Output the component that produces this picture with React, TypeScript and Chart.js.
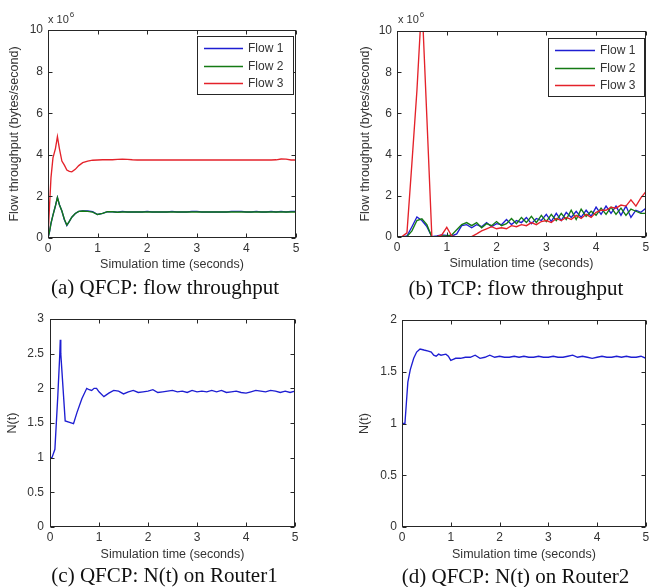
import React, { useEffect, useRef } from "react";
import { Chart, registerables } from "chart.js";

Chart.register(...registerables);

// ---------- data ----------
const flowLabels = ["Flow 1", "Flow 2", "Flow 3"];
const xTicks = [0, 1, 2, 3, 4, 5];
const yTicksThroughput = [0, 2, 4, 6, 8, 10];
const yTicksRouter1 = [0, 0.5, 1, 1.5, 2, 2.5, 3];
const yTicksRouter2 = [0, 0.5, 1, 1.5, 2];

// (a) QFCP flow throughput (x 10^6 bytes/second)
const timeA = [0, 0.03, 0.06, 0.1, 0.15, 0.19, 0.23, 0.28, 0.33, 0.38, 0.43, 0.48, 0.55, 0.62, 0.7, 0.8, 0.9,
  1.0, 1.1, 1.2, 1.3, 1.4, 1.5, 1.6, 1.7, 1.8, 1.9,
  2.0, 2.1, 2.2, 2.3, 2.4, 2.5, 2.6, 2.7, 2.8, 2.9,
  3.0, 3.1, 3.2, 3.3, 3.4, 3.5, 3.6, 3.7, 3.8, 3.9,
  4.0, 4.1, 4.2, 4.3, 4.4, 4.5, 4.6, 4.7, 4.8, 4.9, 5.0];
const flow1A = [0, 0.3, 0.7, 1.1, 1.55, 1.95, 1.6, 1.3, 0.88, 0.6, 0.8, 1.0, 1.18, 1.28, 1.3, 1.3, 1.27,
  1.13, 1.18, 1.27, 1.26, 1.24, 1.28, 1.25, 1.25, 1.25, 1.25,
  1.28, 1.25, 1.25, 1.25, 1.25, 1.28, 1.25, 1.25, 1.25, 1.28,
  1.28, 1.25, 1.25, 1.25, 1.25, 1.25, 1.25, 1.28, 1.28, 1.28,
  1.25, 1.25, 1.28, 1.25, 1.25, 1.28, 1.25, 1.28, 1.25, 1.28, 1.28];
const flow2A = [0, 0.3, 0.7, 1.1, 1.55, 1.95, 1.6, 1.3, 0.9, 0.62, 0.8, 1.0, 1.18, 1.28, 1.3, 1.28, 1.24,
  1.13, 1.18, 1.27, 1.26, 1.24, 1.25, 1.25, 1.25, 1.25, 1.25,
  1.25, 1.25, 1.25, 1.25, 1.25, 1.25, 1.25, 1.25, 1.25, 1.25,
  1.25, 1.25, 1.25, 1.25, 1.25, 1.25, 1.25, 1.25, 1.25, 1.25,
  1.25, 1.25, 1.25, 1.25, 1.25, 1.25, 1.25, 1.25, 1.25, 1.25, 1.25];
const flow3A = [0, 1.5, 2.9, 3.85, 4.3, 4.87, 4.3, 3.7, 3.5, 3.27, 3.2, 3.18, 3.3, 3.48, 3.62, 3.7, 3.74,
  3.75, 3.76, 3.77, 3.76, 3.78, 3.79, 3.78, 3.76, 3.75, 3.75,
  3.75, 3.75, 3.75, 3.75, 3.75, 3.75, 3.75, 3.75, 3.75, 3.75,
  3.75, 3.75, 3.75, 3.75, 3.75, 3.75, 3.75, 3.75, 3.75, 3.75,
  3.75, 3.75, 3.75, 3.75, 3.75, 3.75, 3.76, 3.8, 3.79, 3.75, 3.75];

// (b) TCP flow throughput (x 10^6 bytes/second)
const timeB = [0, 0.1, 0.2, 0.3, 0.4, 0.5, 0.6, 0.7, 0.8, 0.9,
  1.0, 1.1, 1.2, 1.3, 1.4, 1.5, 1.6, 1.7, 1.8, 1.9,
  2.0, 2.1, 2.2, 2.3, 2.4, 2.5, 2.6, 2.7, 2.8, 2.9,
  3.0, 3.1, 3.2, 3.3, 3.4, 3.5, 3.6, 3.7, 3.8, 3.9,
  4.0, 4.1, 4.2, 4.3, 4.4, 4.5, 4.6, 4.7, 4.8, 4.9, 5.0];
const flow1B = [0, 0, 0.05, 0.5, 0.97, 0.8, 0.5, 0.02, 0.05, 0.1,
  0.08, 0.05, 0.15, 0.55, 0.6, 0.45, 0.6, 0.5, 0.7, 0.5,
  0.65, 0.6, 0.85, 0.6, 0.8, 0.7, 0.95, 0.65, 0.9, 0.8,
  1.1, 0.75, 1.15, 0.8, 1.2, 0.95, 1.25, 0.95, 1.3, 1.0,
  1.45, 1.1, 1.5, 1.15, 1.5, 1.05, 1.5, 0.95, 1.3, 1.2, 1.4];
const flow2B = [0, 0, 0.02, 0.3, 0.8, 0.88, 0.6, 0, 0.02, 0.05,
  0.05, 0.1, 0.35, 0.6, 0.7, 0.55, 0.7, 0.45, 0.65, 0.55,
  0.75, 0.55, 0.65, 0.9, 0.65, 0.95, 0.7, 1.0, 0.7, 1.05,
  0.75, 1.1, 0.8, 1.15, 0.85, 1.3, 0.85, 1.35, 1.0, 1.25,
  1.05, 1.4, 1.1, 1.45, 1.1, 1.4, 1.05, 1.35, 1.25, 1.15, 1.15];
const flow3B = [0, 0.02, 0.2, 3.6, 7.1, 11.5, 5.8, 0.03, 0.02, 0.1,
  0.47, 0.05, 0, 0, 0, 0.02, 0.15, 0.3, 0.4, 0.5,
  0.4, 0.45, 0.4, 0.55, 0.5, 0.6, 0.55, 0.7, 0.6, 0.75,
  0.8, 0.7, 0.9, 0.8, 0.95, 0.85, 1.05, 0.9, 1.1, 0.95,
  1.2, 1.3, 1.3, 1.45, 1.4, 1.55, 1.5, 1.8, 1.5, 1.9, 2.2];

// (c) QFCP N(t) on Router1
const timeC = [0, 0.04, 0.1, 0.16, 0.2, 0.21, 0.22, 0.31, 0.4, 0.48, 0.55, 0.65, 0.75, 0.8, 0.85, 0.9, 0.95,
  1.0, 1.1, 1.2, 1.3, 1.4, 1.5, 1.6, 1.7, 1.8, 1.9,
  2.0, 2.1, 2.2, 2.3, 2.4, 2.5, 2.6, 2.7, 2.8, 2.9,
  3.0, 3.1, 3.2, 3.3, 3.4, 3.5, 3.6, 3.7, 3.8, 3.9,
  4.0, 4.1, 4.2, 4.3, 4.4, 4.5, 4.6, 4.7, 4.8, 4.9, 5.0];
const nRouter1 = [1.0, 1.0, 1.12, 1.9, 2.5, 2.7, 2.5, 1.53, 1.51, 1.49, 1.65, 1.85, 2.0, 1.98, 1.97, 2.0, 2.0,
  1.95, 1.88, 1.93, 1.97, 1.96, 1.92, 1.95, 1.97, 1.94, 1.95,
  1.96, 1.98, 1.94, 1.95, 1.96, 1.97, 1.95, 1.96, 1.94, 1.97,
  1.95, 1.96, 1.95, 1.97, 1.95, 1.97, 1.94, 1.95, 1.96, 1.94,
  1.93, 1.95, 1.97, 1.96, 1.95, 1.97, 1.96, 1.94, 1.96, 1.94, 1.96];

// (d) QFCP N(t) on Router2
const timeD = [0, 0.06, 0.09, 0.12, 0.17, 0.24, 0.3, 0.37, 0.45, 0.54, 0.6, 0.65, 0.7, 0.75, 0.8, 0.9, 0.95, 1.0, 1.05, 1.1,
  1.2, 1.3, 1.4, 1.5, 1.6, 1.7, 1.8, 1.9,
  2.0, 2.1, 2.2, 2.3, 2.4, 2.5, 2.6, 2.7, 2.8, 2.9,
  3.0, 3.1, 3.2, 3.3, 3.4, 3.5, 3.6, 3.7, 3.8, 3.9,
  4.0, 4.1, 4.2, 4.3, 4.4, 4.5, 4.6, 4.7, 4.8, 4.9, 5.0];
const nRouter2 = [1.0, 1.0, 1.2, 1.4, 1.52, 1.63, 1.69, 1.72, 1.71, 1.7, 1.69, 1.66, 1.65, 1.67, 1.66, 1.67, 1.65, 1.61, 1.62, 1.63,
  1.63, 1.64, 1.64, 1.66, 1.63, 1.64, 1.66, 1.64,
  1.65, 1.64, 1.64, 1.65, 1.64, 1.65, 1.64, 1.64, 1.65, 1.64,
  1.64, 1.65, 1.64, 1.64, 1.65, 1.66, 1.64, 1.65, 1.64, 1.63,
  1.64, 1.65, 1.64, 1.64, 1.65, 1.64, 1.65, 1.64, 1.64, 1.65, 1.63];

// ---------- styling ----------
const SANS = "'Liberation Sans', Arial, sans-serif";
const SERIF = "'Liberation Serif', 'Times New Roman', serif";
const BLUE = "#1e1ed2";
const GREEN = "#147a14";
const RED = "#e4222a";
const TEXT = "#333333";

type Rect = { x: number; y: number; w: number; h: number };
type Series = { label: string; color: string; time: number[]; values: number[]; order: number };
type LegendCfg = { x: number; y: number; w: number; h: number; lx1: number; lx2: number; tx: number; rows: number[] };
type PanelCfg = {
  canvas: Rect;
  plot: { L: number; T: number; R: number; B: number };
  yTitle: string;
  yTitleX: number;
  xTitleY: number;
  xTickY: number;
  yTickGap: number;
  yMax: number;
  yTicks: number[];
  series: Series[];
  exponent?: { x: number; y: number };
  legend?: LegendCfg;
};

const framePlugin = {
  id: "matlabFrame",
  afterDatasetsDraw(chart: any, _args: any, opts: any) {
    const cfg: PanelCfg = opts.cfg;
    const { ctx, chartArea } = chart;
    const { left, top, right, bottom } = chartArea;
    const xs = chart.scales.x;
    const ys = chart.scales.y;
    ctx.save();
    ctx.strokeStyle = "#262626";
    ctx.lineWidth = 1;
    const l = Math.round(left) + 0.5;
    const t = Math.round(top) + 0.5;
    const r = Math.round(right) - 0.5;
    const b = Math.round(bottom) - 0.5;
    ctx.strokeRect(l, t, r - l, b - t);
    const tl = 4;
    ctx.beginPath();
    xTicks.forEach((v) => {
      const px = Math.round(xs.getPixelForValue(v)) + 0.5;
      ctx.moveTo(px, b);
      ctx.lineTo(px, b - tl);
      ctx.moveTo(px, t);
      ctx.lineTo(px, t + tl);
    });
    cfg.yTicks.forEach((v) => {
      const py = Math.round(ys.getPixelForValue(v)) + 0.5;
      ctx.moveTo(l, py);
      ctx.lineTo(l + tl, py);
      ctx.moveTo(r, py);
      ctx.lineTo(r - tl, py);
    });
    ctx.stroke();

    const ox = cfg.canvas.x;
    const oy = cfg.canvas.y;
    if (cfg.exponent) {
      ctx.fillStyle = TEXT;
      ctx.textBaseline = "alphabetic";
      ctx.textAlign = "left";
      ctx.font = `11px ${SANS}`;
      const ex = cfg.exponent.x - ox;
      const ey = cfg.exponent.y - oy;
      ctx.fillText("x 10", ex, ey);
      const w = ctx.measureText("x 10").width;
      ctx.font = `8px ${SANS}`;
      ctx.fillText("6", ex + w + 1, ey - 6);
    }
    if (cfg.legend) {
      const lg = cfg.legend;
      ctx.fillStyle = "#ffffff";
      ctx.fillRect(lg.x - ox, lg.y - oy, lg.w, lg.h);
      ctx.strokeStyle = "#262626";
      ctx.strokeRect(lg.x - ox + 0.5, lg.y - oy + 0.5, lg.w - 1, lg.h - 1);
      ctx.font = `12px ${SANS}`;
      ctx.textBaseline = "middle";
      ctx.textAlign = "left";
      cfg.series.forEach((s, i) => {
        const ry = Math.round(lg.rows[i] - oy) + 0.5;
        ctx.strokeStyle = s.color;
        ctx.lineWidth = 1.3;
        ctx.beginPath();
        ctx.moveTo(lg.lx1 - ox, ry);
        ctx.lineTo(lg.lx2 - ox, ry);
        ctx.stroke();
        ctx.fillStyle = TEXT;
        ctx.fillText(s.label, lg.tx - ox, ry);
      });
    }
    ctx.restore();
  },
};

function Panel({ cfg }: { cfg: PanelCfg }) {
  const ref = useRef<HTMLCanvasElement | null>(null);
  useEffect(() => {
    if (!ref.current) return;
    const { canvas, plot } = cfg;
    const tickFont = { family: SANS, size: 12 };
    const titleFont = { family: SANS, size: 12.5 };
    const chart = new Chart(ref.current, {
      type: "line",
      data: {
        datasets: cfg.series.map((s) => ({
          label: s.label,
          data: s.time.map((t, i) => ({ x: t, y: s.values[i] })),
          borderColor: s.color,
          backgroundColor: s.color,
          borderWidth: 1.35,
          pointRadius: 0,
          tension: 0,
          fill: false,
          order: s.order,
        })),
      },
      options: {
        animation: false,
        responsive: false,
        maintainAspectRatio: false,
        events: [],
        layout: {
          padding: {
            left: 0,
            top: plot.T - canvas.y,
            right: canvas.x + canvas.w - plot.R,
            bottom: 0,
          },
        },
        plugins: {
          legend: { display: false },
          tooltip: { enabled: false },
          matlabFrame: { cfg },
        } as any,
        scales: {
          x: {
            type: "linear",
            min: 0,
            max: 5,
            afterBuildTicks: (s: any) => {
              s.ticks = xTicks.map((v) => ({ value: v }));
            },
            afterFit: (s: any) => {
              s.height = canvas.y + canvas.h - plot.B;
            },
            grid: { display: false, drawTicks: false },
            border: { display: false },
            ticks: {
              padding: cfg.xTickY - plot.B - 7.2,
              color: TEXT,
              font: tickFont,
              maxRotation: 0,
              autoSkip: false,
              callback: (v: any) => String(v),
            },
            title: {
              display: true,
              text: "Simulation time (seconds)",
              color: TEXT,
              font: titleFont,
              padding: { top: 0, bottom: canvas.y + canvas.h - cfg.xTitleY - 7.5 },
            },
          },
          y: {
            type: "linear",
            min: 0,
            max: cfg.yMax,
            afterBuildTicks: (s: any) => {
              s.ticks = cfg.yTicks.map((v) => ({ value: v }));
            },
            afterFit: (s: any) => {
              s.width = plot.L - canvas.x;
            },
            grid: { display: false, drawTicks: false },
            border: { display: false },
            ticks: {
              padding: cfg.yTickGap,
              color: TEXT,
              font: tickFont,
              autoSkip: false,
              callback: (v: any) => String(v),
            },
            title: {
              display: true,
              text: cfg.yTitle,
              color: TEXT,
              font: titleFont,
              padding: { top: cfg.yTitleX - canvas.x - 7.5, bottom: 0 },
            },
          },
        },
      },
      plugins: [framePlugin],
    } as any);
    return () => chart.destroy();
  }, [cfg]);
  const { canvas } = cfg;
  return (
    <canvas
      ref={ref}
      width={canvas.w}
      height={canvas.h}
      style={{ position: "absolute", left: canvas.x, top: canvas.y, width: canvas.w, height: canvas.h }}
    />
  );
}

const flowSeries = (time: number[], a: number[], b: number[], c: number[]): Series[] => [
  { label: flowLabels[0], color: BLUE, time, values: a, order: 3 },
  { label: flowLabels[1], color: GREEN, time, values: b, order: 2 },
  { label: flowLabels[2], color: RED, time, values: c, order: 1 },
];

const panels: PanelCfg[] = [
  {
    canvas: { x: 0, y: 0, w: 323, h: 282 },
    plot: { L: 48, T: 30, R: 296, B: 238 },
    yTitle: "Flow throughput (bytes/second)",
    yTitleX: 15,
    xTitleY: 265,
    xTickY: 249,
    yTickGap: 5,
    yMax: 10,
    yTicks: yTicksThroughput,
    series: flowSeries(timeA, flow1A, flow2A, flow3A),
    exponent: { x: 48, y: 23 },
    legend: { x: 197, y: 36, w: 97, h: 59, lx1: 204, lx2: 243, tx: 248, rows: [48, 66, 83] },
  },
  {
    canvas: { x: 323, y: 0, w: 330, h: 282 },
    plot: { L: 397, T: 31, R: 646, B: 237 },
    yTitle: "Flow throughput (bytes/second)",
    yTitleX: 366,
    xTitleY: 263.5,
    xTickY: 248,
    yTickGap: 5,
    yMax: 10,
    yTicks: yTicksThroughput,
    series: flowSeries(timeB, flow1B, flow2B, flow3B),
    exponent: { x: 398, y: 23 },
    legend: { x: 548, y: 38, w: 97, h: 59, lx1: 555, lx2: 595, tx: 600, rows: [50, 67.5, 85] },
  },
  {
    canvas: { x: 0, y: 295, w: 323, h: 272 },
    plot: { L: 50, T: 319, R: 295, B: 527 },
    yTitle: "N(t)",
    yTitleX: 13,
    xTitleY: 555,
    xTickY: 538,
    yTickGap: 6,
    yMax: 3,
    yTicks: yTicksRouter1,
    series: [{ label: "N(t)", color: BLUE, time: timeC, values: nRouter1, order: 1 }],
  },
  {
    canvas: { x: 323, y: 295, w: 330, h: 272 },
    plot: { L: 402, T: 320, R: 646, B: 527 },
    yTitle: "N(t)",
    yTitleX: 365,
    xTitleY: 555,
    xTickY: 538,
    yTickGap: 5,
    yMax: 2,
    yTicks: yTicksRouter2,
    series: [{ label: "N(t)", color: BLUE, time: timeD, values: nRouter2, order: 1 }],
  },
];

const captions = [
  { text: "(a) QFCP: flow throughput", cx: 165, cy: 287 },
  { text: "(b) TCP: flow throughput", cx: 516, cy: 288 },
  { text: "(c) QFCP: N(t) on Router1", cx: 164.5, cy: 575 },
  { text: "(d) QFCP: N(t) on Router2", cx: 515.5, cy: 576 },
];

export default function App() {
  return (
    <div style={{ position: "absolute", left: 0, top: 0, width: 653, height: 587, background: "#ffffff", overflow: "hidden" }}>
      {panels.map((p, i) => (
        <Panel key={i} cfg={p} />
      ))}
      {captions.map((c, i) => (
        <div
          key={"c" + i}
          style={{
            position: "absolute",
            left: c.cx - 160,
            width: 320,
            top: c.cy - 12,
            height: 24,
            lineHeight: "24px",
            textAlign: "center",
            fontFamily: SERIF,
            fontSize: 21,
            color: "#111",
            whiteSpace: "nowrap",
          }}
        >
          {c.text}
        </div>
      ))}
    </div>
  );
}
